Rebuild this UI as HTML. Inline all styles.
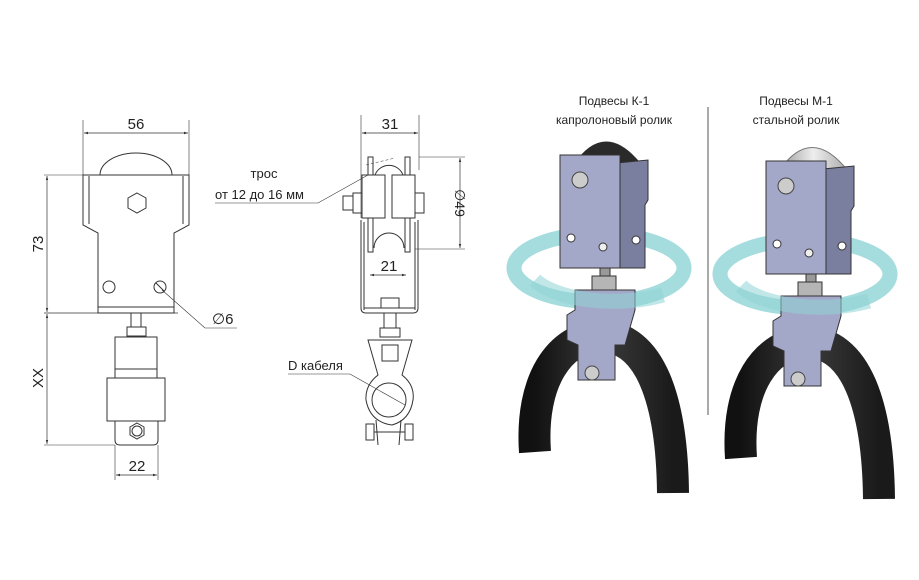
<!DOCTYPE html>
<html><head><meta charset="utf-8"><style>
html,body{margin:0;padding:0;background:#fff;width:919px;height:580px;overflow:hidden}
svg{display:block}
text{font-family:"Liberation Sans","DejaVu Sans",sans-serif;fill:#222}
</style></head><body>
<svg width="919" height="580" viewBox="0 0 919 580" xmlns="http://www.w3.org/2000/svg">
<defs>
<marker id="a" viewBox="0 0 10 10" refX="10" refY="5" markerWidth="6" markerHeight="6" orient="auto-start-reverse"><path d="M0,2 L10,5 L0,8z" fill="#333"/></marker>
<linearGradient id="st" x1="0" x2="1"><stop offset="0" stop-color="#9a9a9a"/><stop offset=".5" stop-color="#eee"/><stop offset="1" stop-color="#aaa"/></linearGradient>
<linearGradient id="cb" x1="0" x2="1"><stop offset="0" stop-color="#111"/><stop offset=".5" stop-color="#3a3a3a"/><stop offset="1" stop-color="#1a1a1a"/></linearGradient>
</defs>
<g fill="none" stroke="#333" stroke-width="1">
<!-- LEFT VIEW -->
<path d="M100,175 A36,22 0 0 1 172,175" />
<path d="M83,175 H189 V225 L174,233 V313 H98 V233 L83,225 Z" fill="#fff"/>
<line x1="89" y1="176" x2="89" y2="224"/><line x1="183" y1="176" x2="183" y2="224"/>
<line x1="98" y1="307" x2="174" y2="307"/>
<polygon points="137,193 146,198 146,208 137,213 128,208 128,198"/>
<circle cx="109" cy="287" r="6"/><circle cx="160" cy="287" r="6"/>
<line x1="156" y1="283" x2="164" y2="291"/>
<rect x="131" y="313" width="10" height="14"/>
<rect x="127" y="327" width="19" height="9"/>
<rect x="115" y="337" width="42" height="32"/>
<rect x="107" y="378" width="58" height="43"/>
<rect x="115" y="369" width="42" height="9"/>
<path d="M115,421 V440 Q115,445 120,445 H153 Q158,445 158,440 V421"/>
<polygon points="137,423 144,427 144,435 137,439 130,435 130,427"/><circle cx="137" cy="431" r="5"/>
<line x1="83" y1="120" x2="83" y2="175" stroke-width=".6"/><line x1="189" y1="120" x2="189" y2="175" stroke-width=".6"/>
<line x1="84" y1="133" x2="188" y2="133" marker-start="url(#a)" marker-end="url(#a)" stroke-width=".7"/>
<line x1="44" y1="175" x2="83" y2="175" stroke-width=".6"/>
<line x1="44" y1="313" x2="178" y2="313" stroke-width=".7"/>
<line x1="44" y1="445" x2="115" y2="445" stroke-width=".6"/>
<line x1="47" y1="176" x2="47" y2="312" marker-start="url(#a)" marker-end="url(#a)" stroke-width=".7"/>
<line x1="47" y1="314" x2="47" y2="444" marker-start="url(#a)" marker-end="url(#a)" stroke-width=".7"/>
<line x1="115" y1="445" x2="115" y2="480" stroke-width=".6"/><line x1="158" y1="445" x2="158" y2="480" stroke-width=".6"/>
<line x1="116" y1="475" x2="157" y2="475" marker-start="url(#a)" marker-end="url(#a)" stroke-width=".7"/>
<polyline points="162,290 205,328 237,328" stroke-width=".6"/>
<!-- MIDDLE VIEW -->
<line x1="361" y1="115" x2="361" y2="218" stroke-width=".6"/><line x1="419" y1="115" x2="419" y2="170" stroke-width=".6"/>
<line x1="362" y1="133" x2="418" y2="133" marker-start="url(#a)" marker-end="url(#a)" stroke-width=".7"/>
<rect x="368" y="157" width="5" height="95"/><rect x="405" y="157" width="5" height="95"/>
<path d="M375,175 A15,15 0 0 1 403,175"/>
<rect x="362" y="175" width="23" height="43" fill="#fff"/><rect x="392" y="175" width="23" height="43" fill="#fff"/>
<rect x="343" y="196" width="10" height="14"/><rect x="353" y="193" width="9" height="20"/>
<rect x="415" y="193" width="9" height="20"/>
<path d="M361,220 V308 Q361,313 366,313 H413 Q418,313 418,308 V220"/>
<line x1="364" y1="222" x2="364" y2="310"/><line x1="415" y1="222" x2="415" y2="310"/>
<path d="M374,248 A15,15 0 0 1 404,248"/>
<line x1="364" y1="308" x2="415" y2="308"/>
<rect x="381" y="298" width="18" height="10"/>
<line x1="419" y1="157" x2="465" y2="157" stroke-width=".6"/><line x1="415" y1="249" x2="465" y2="249" stroke-width=".6"/>
<line x1="460" y1="158" x2="460" y2="248" marker-start="url(#a)" marker-end="url(#a)" stroke-width=".7"/>
<line x1="370" y1="275" x2="406" y2="275" marker-start="url(#a)" marker-end="url(#a)" stroke-width=".7"/>
<polyline points="215,203 318,203 368,175" stroke-width=".6"/>
<line x1="366" y1="165" x2="395" y2="158" stroke-width=".5" stroke-dasharray="3,2"/>
<rect x="384" y="313" width="12" height="15"/>
<rect x="380" y="328" width="20" height="9"/>
<path d="M368,340 H412 L402,375 Q415,385 413,400 Q410,420 392,425 Q370,422 366,400 Q365,385 378,375 Z"/>
<circle cx="389" cy="400" r="17"/>
<rect x="382" y="345" width="16" height="16"/>
<line x1="376" y1="420" x2="378" y2="445"/><line x1="401" y1="420" x2="399" y2="445"/>
<rect x="366" y="424" width="8" height="16"/><rect x="405" y="424" width="8" height="16"/>
<line x1="374" y1="432" x2="405" y2="432"/>
<polyline points="288,374 350,374 405,405" stroke-width=".6"/>
</g>
<text x="136" y="129" font-size="15" text-anchor="middle">56</text>
<text x="390" y="129" font-size="15" text-anchor="middle">31</text>
<text x="389" y="271" font-size="15" text-anchor="middle">21</text>
<text x="137" y="471" font-size="15" text-anchor="middle">22</text>
<text transform="translate(43,244) rotate(-90)" font-size="15" text-anchor="middle">73</text>
<text transform="translate(43,378) rotate(-90)" font-size="15" text-anchor="middle">XX</text>
<text transform="translate(455,203) rotate(90)" font-size="14" text-anchor="middle">∅49</text>
<text x="212" y="324" font-size="15">∅6</text>
<text x="264" y="178" font-size="13" text-anchor="middle">трос</text>
<text x="215" y="199" font-size="13">от 12 до 16 мм</text>
<text x="288" y="370" font-size="13">D кабеля</text>
<!-- RIGHT PHOTOS -->
<text x="614" y="105" font-size="12" text-anchor="middle">Подвесы К-1</text>
<text x="614" y="124" font-size="12" text-anchor="middle">капролоновый ролик</text>
<text x="796" y="105" font-size="12" text-anchor="middle">Подвесы М-1</text>
<text x="796" y="124" font-size="12" text-anchor="middle">стальной ролик</text>
<line x1="708" y1="107" x2="708" y2="415" stroke="#555" stroke-width="1"/>
<!-- wheels -->
<path d="M573,165 Q605,118 642,165 V235 H573Z" fill="#2a2a2a"/>
<path d="M779,171 Q811,124 848,171 V241 H779Z" fill="url(#st)" stroke="#777"/>
<g id="p1">
<path d="M535,452 C530,380 560,338 600,336 C650,336 672,400 673,493" fill="none" stroke="url(#cb)" stroke-width="32"/>
<ellipse cx="599" cy="268" rx="85" ry="34" fill="none" stroke="#8fd3d6" stroke-width="15" opacity=".8"/>
<path d="M617,163 L648,160 V200 L645,205 V268 H617Z" fill="#7a7fa0" stroke="#333"/>
<path d="M560,155 H620 V268 H560Z" fill="#a4a8c8" stroke="#333"/>
<circle cx="580" cy="180" r="8" fill="#ccc" stroke="#444"/>
<circle cx="571" cy="238" r="4" fill="#fff" stroke="#333"/><circle cx="636" cy="240" r="4" fill="#fff" stroke="#333"/>
<circle cx="603" cy="247" r="4" fill="#eee" stroke="#333"/>
<rect x="600" y="268" width="10" height="8" fill="#999" stroke="#333"/>
<rect x="592" y="276" width="24" height="14" fill="#b5b5b5" stroke="#333"/>
<path d="M575,290 H635 V310 L625,345 H615 V380 H578 V345 L567,340 V315 L575,310Z" fill="#a4a8c8" stroke="#333"/>
<path d="M535,280 A85,34 0 0 0 663,295" fill="none" stroke="#8fd3d6" stroke-width="15" opacity=".55"/>
<circle cx="592" cy="373" r="7" fill="#ccc" stroke="#444"/>
</g>
<use href="#p1" transform="translate(206,6)"/>
</svg>
</body></html>
